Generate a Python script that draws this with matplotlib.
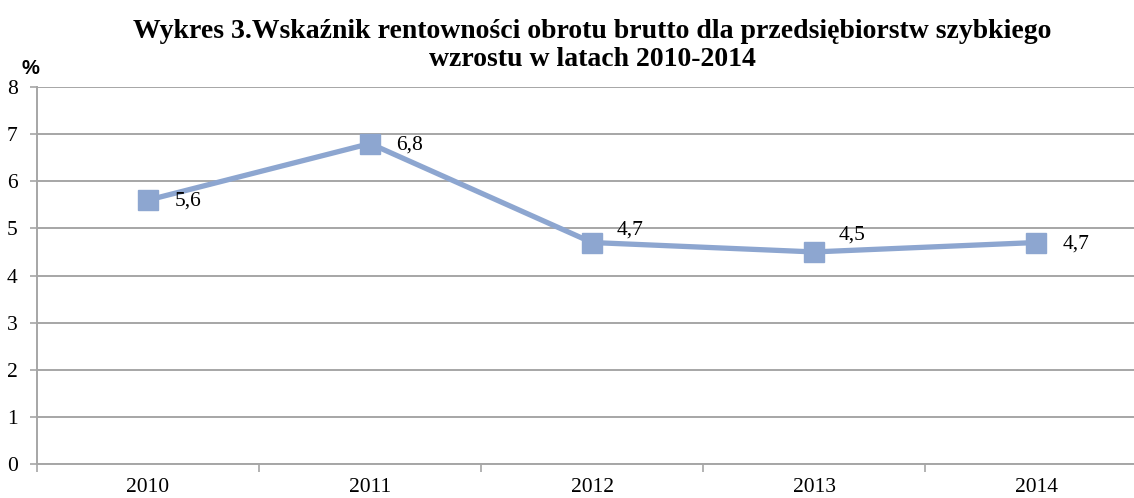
import matplotlib.pyplot as plt
import numpy as np

years = ["2010", "2011", "2012", "2013", "2014"]
values = [5.6, 6.8, 4.7, 4.5, 4.7]
labels = ["5,6", "6,8", "4,7", "4,5", "4,7"]
# label offsets in points (dx, dy)
offsets = [(19, -1), (19, -1), (18, 9), (18, 12), (19, -1)]

plt.rcParams["font.family"] = ["Liberation Serif", "DejaVu Serif"]

W, H = 1134, 498
fig = plt.figure(figsize=(W / 100, H / 100), dpi=100)
# plot area runs past the right edge of the picture
left, right, bottom, top = 37, 1147, 464, 87
ax = fig.add_axes([left / W, (H - bottom) / H, (right - left) / W, (bottom - top) / H])

line_col = "#8DA6D0"
grid_col = "#A6A6A6"
x = np.arange(len(years))
ax.plot(x, values, color=line_col, lw=3.8, marker="s", ms=14.5,
        mfc=line_col, mec=line_col, zorder=3, solid_capstyle="butt")
for xi, v, lab, (dx, dy) in zip(x, values, labels, offsets):
    ax.annotate(lab, (xi, v), xytext=(dx, dy), textcoords="offset points",
                ha="left", va="center", fontsize=15.5, zorder=4)

ax.set_xlim(-0.5, len(years) - 0.5)
ax.set_ylim(0, 8)
ax.set_yticks(range(0, 9))
ax.set_xticks(x)
ax.set_xticklabels(years)
ax.set_xticks(np.arange(-0.5, len(years), 1.0), minor=True)
ax.tick_params(axis="x", which="major", length=0, labelsize=15.5, pad=10)
ax.tick_params(axis="x", which="minor", length=6, width=1.2, color=grid_col)
ax.tick_params(axis="y", length=5, width=1.2, color=grid_col, labelsize=15.5, pad=9)
ax.yaxis.grid(True, color=grid_col, lw=1.4)
ax.set_axisbelow(True)
for s in ["top", "right"]:
    ax.spines[s].set_visible(False)
for s in ["left", "bottom"]:
    ax.spines[s].set_color(grid_col)
    ax.spines[s].set_linewidth(1.4)

fig.text(592 / W, 1 - 32 / H, "Wykres 3.Wskaźnik rentowności obrotu brutto dla przedsiębiorstw szybkiego",
         ha="center", va="center", fontsize=20, fontweight="bold")
fig.text(592 / W, 1 - 59 / H, "wzrostu w latach 2010-2014",
         ha="center", va="center", fontsize=20, fontweight="bold")
fig.text(22 / W, 1 - 68 / H, "%", ha="left", va="center", fontsize=14.5,
         fontweight="bold", family=["Liberation Sans", "DejaVu Sans"])

fig.savefig("out.png", dpi=100)
